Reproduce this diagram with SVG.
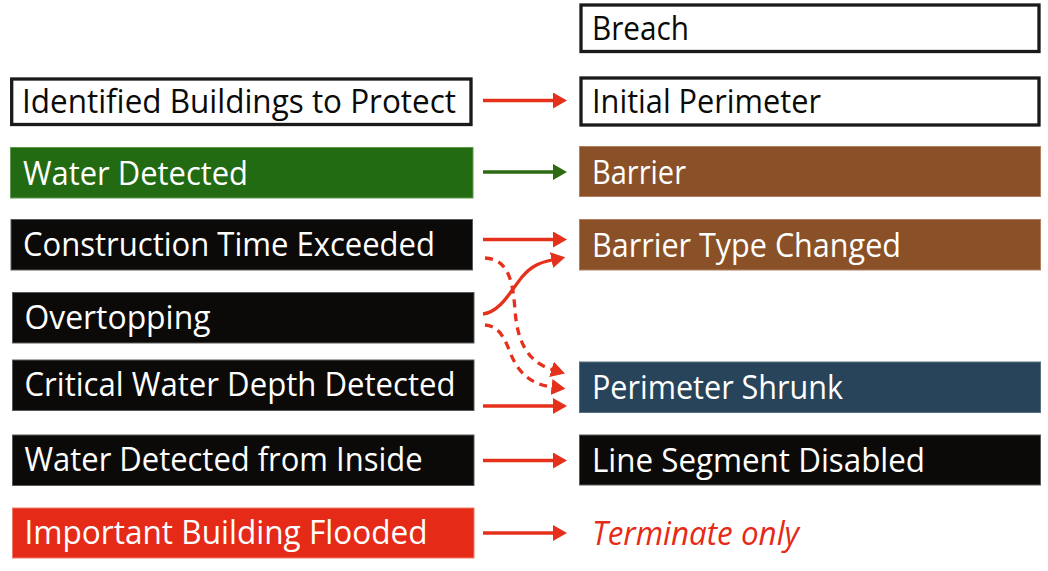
<svg xmlns="http://www.w3.org/2000/svg" width="1048" height="571" viewBox="0 0 1048 571">
<style>
.t{font-family:"Open Sans","Liberation Sans",sans-serif;font-size:32px;fill:#ffffff}
.k{fill:#0a0a08}
.o{fill:#ffffff;stroke:#1a1a1a;stroke-width:3.3}
.dk{fill:#0b0a08;stroke:#5a5a5a;stroke-width:1}
.br{fill:#8a5128;stroke:#b08060;stroke-width:1}
.gr{fill:#226b12;stroke:#5c9a4c;stroke-width:1}
.bl{fill:#27445a;stroke:#5a7080;stroke-width:1}
.rd{fill:#e52a17;stroke:#f07a6a;stroke-width:1}
.c{fill:none;stroke:#e5301b;stroke-width:3.3}
.g{fill:none;stroke:#2d6a12;stroke-width:3.3}
.ds{stroke-dasharray:8 6}
</style>
<defs>
<marker id="ar" markerUnits="userSpaceOnUse" viewBox="0 0 14 16" markerWidth="14" markerHeight="16" refX="0.5" refY="8" orient="auto"><path d="M0,0 L14,8 L0,16 Z" fill="#e5301b"/></marker>
<marker id="ag" markerUnits="userSpaceOnUse" viewBox="0 0 14 16" markerWidth="14" markerHeight="16" refX="0.5" refY="8" orient="auto"><path d="M0,0 L14,8 L0,16 Z" fill="#2d6a12"/></marker>
</defs>

<g id="breach"><rect class="o" x="581" y="5" width="458" height="46.5"/><text class="t k" x="592" y="40" textLength="97" lengthAdjust="spacingAndGlyphs">Breach</text></g>
<g id="initial-perimeter"><rect class="o" x="581" y="78" width="458" height="47"/><text class="t k" x="592" y="112.5" textLength="229" lengthAdjust="spacingAndGlyphs">Initial Perimeter</text></g>
<g id="barrier"><rect class="br" x="579.5" y="146.5" width="461" height="50"/><text class="t" x="592" y="183.5" textLength="94" lengthAdjust="spacingAndGlyphs">Barrier</text></g>
<g id="barrier-type-changed"><rect class="br" x="579.5" y="219.5" width="461" height="50.5"/><text class="t" x="592" y="256.5" textLength="309" lengthAdjust="spacingAndGlyphs">Barrier Type Changed</text></g>
<g id="perimeter-shrunk"><rect class="bl" x="579.5" y="362" width="461" height="50.5"/><text class="t" x="592" y="398.5" textLength="251" lengthAdjust="spacingAndGlyphs">Perimeter Shrunk</text></g>
<g id="line-segment-disabled"><rect class="dk" x="579.5" y="435" width="461" height="50"/><text class="t" x="592" y="471.5" textLength="333" lengthAdjust="spacingAndGlyphs">Line Segment Disabled</text></g>
<g id="terminate-only"><text class="t" x="592" y="545" fill="#e52a17" style="fill:#e52a17;font-style:italic" textLength="207" lengthAdjust="spacingAndGlyphs">Terminate only</text></g>

<g id="identified-buildings"><rect class="o" x="11.7" y="79" width="459.3" height="45.5"/><text class="t k" x="22" y="113" textLength="434" lengthAdjust="spacingAndGlyphs">Identified Buildings to Protect</text></g>
<g id="water-detected"><rect class="gr" x="10.5" y="147.5" width="462.5" height="50.5"/><text class="t" x="23" y="184.5" textLength="225" lengthAdjust="spacingAndGlyphs">Water Detected</text></g>
<g id="construction-time-exceeded"><rect class="dk" x="11" y="219.5" width="461.5" height="50.5"/><text class="t" x="23" y="255.5" textLength="412" lengthAdjust="spacingAndGlyphs">Construction Time Exceeded</text></g>
<g id="overtopping"><rect class="dk" x="12.5" y="292.5" width="461.5" height="50.5"/><text class="t" x="24.5" y="328.5" textLength="186" lengthAdjust="spacingAndGlyphs">Overtopping</text></g>
<g id="critical-water-depth"><rect class="dk" x="12.5" y="360" width="461.5" height="50.5"/><text class="t" x="24.5" y="396" textLength="431" lengthAdjust="spacingAndGlyphs">Critical Water Depth Detected</text></g>
<g id="water-detected-inside"><rect class="dk" x="12.5" y="435" width="461.5" height="50.5"/><text class="t" x="24.5" y="471" textLength="398" lengthAdjust="spacingAndGlyphs">Water Detected from Inside</text></g>
<g id="important-building-flooded"><rect class="rd" x="12.5" y="508" width="461.5" height="50"/><text class="t" x="24.5" y="543.5" textLength="403" lengthAdjust="spacingAndGlyphs">Important Building Flooded</text></g>

<g id="connectors">
<path class="c" d="M483,100.5 H553.5" marker-end="url(#ar)"/>
<path class="g" d="M483,172 H553.5" marker-end="url(#ag)"/>
<path class="c" d="M483,239.5 H553.5" marker-end="url(#ar)"/>
<path class="c" d="M483,314 C500,312 510,292 522,277 C532,265 542,262 552,260" marker-end="url(#ar)"/>
<path class="c ds" d="M485,258 C510,259 513,285 515,310 C517,340 527,362 552,369.5" marker-end="url(#ar)"/>
<path class="c ds" d="M485,325 C500,326 505,340 510,352 C517,370 528,384 552,387" marker-end="url(#ar)"/>
<path class="c" d="M483,406 H553.5" marker-end="url(#ar)"/>
<path class="c" d="M483,460.5 H553.5" marker-end="url(#ar)"/>
<path class="c" d="M483,533 H553.5" marker-end="url(#ar)"/>
</g>
</svg>
